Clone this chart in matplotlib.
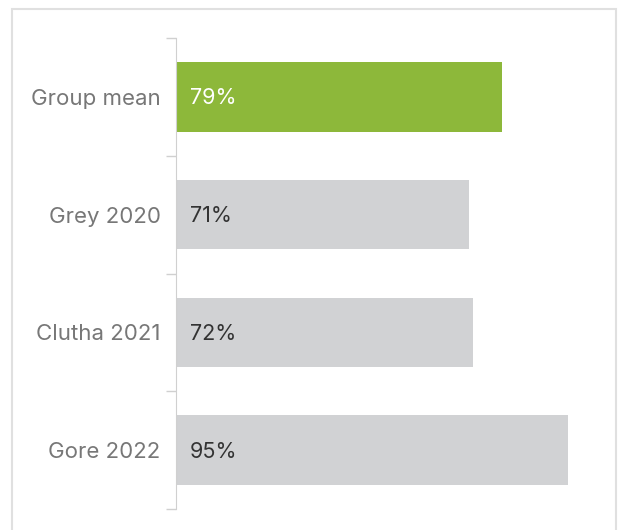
import matplotlib.pyplot as plt
from matplotlib.patches import Rectangle
import numpy as np

# data
categories = ['Group mean', 'Grey 2020', 'Clutha 2021', 'Gore 2022']
values = [79, 71, 72, 95]
bar_colors = ['#8DB83A', '#D1D2D4', '#D1D2D4', '#D1D2D4']
text_colors = ['white', '#333333', '#333333', '#333333']

plt.rcParams['font.family'] = ['Inter', 'DejaVu Sans']

W, H = 626, 530
fig = plt.figure(figsize=(W / 100, H / 100), dpi=100)

# outer light frame
fig.patches.append(Rectangle((12 / W, -0.1), (616 - 12) / W, 1.1 - 9 / H,
                             transform=fig.transFigure, fill=False,
                             edgecolor='#E0E0E0', linewidth=1.5))

ax = fig.add_axes([176 / W, 1 - 509 / H, (600 - 176) / W, (509 - 38) / H])
y = np.arange(len(categories))
ax.barh(y, values, height=0.59, color=bar_colors)
ax.set_ylim(len(categories) - 0.5, -0.5)
ax.set_xlim(0, (600 - 176) / 4.13)

for yi, v, c in zip(y, values, text_colors):
    ax.annotate(f'{v}%', (0, yi), xytext=(10, -1), textcoords='offset points',
                va='center', ha='left', color=c, fontsize=15.5)

ax.set_yticks(y)
ax.set_yticklabels(categories, fontsize=16, color='#777777')
ax.set_yticks(np.arange(-0.5, len(categories)), minor=True)
ax.tick_params(axis='y', which='major', length=0, pad=11)
ax.tick_params(axis='y', which='minor', length=7, color='#D0D0D0', width=1)
ax.set_xticks([])
for s in ['top', 'right', 'bottom']:
    ax.spines[s].set_visible(False)
ax.spines['left'].set_color('#D0D0D0')

fig.savefig('out.png', dpi=100)
